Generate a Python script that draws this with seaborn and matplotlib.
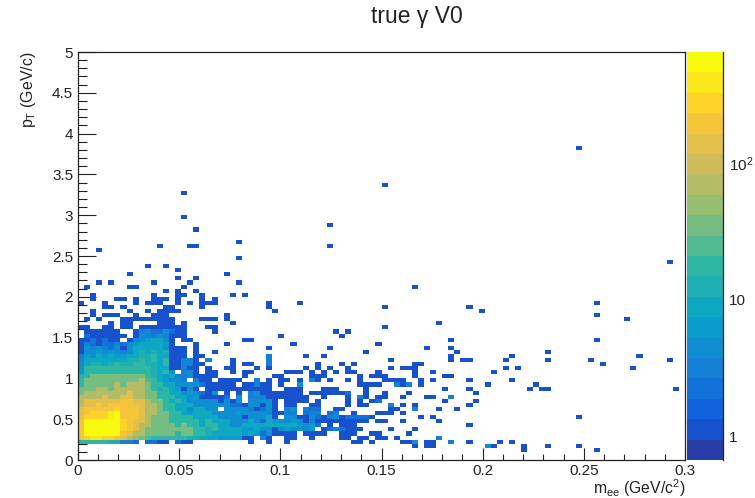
import numpy as np
import pandas as pd
import seaborn as sns
import matplotlib
matplotlib.use("Agg")
import matplotlib.pyplot as plt
from matplotlib.colors import LinearSegmentedColormap, ListedColormap, LogNorm
from matplotlib.ticker import FixedLocator, NullFormatter

# -----------------------------
# DATA (bin numbers + counts)
# -----------------------------
N_BINS = 100
MEE_MAX = 0.3
PT_MAX = 5.0

# dense part, first row is pT bin 4, first column is mee bin 0
core_first_row = 4
core_counts = [
    [20, 20, 20, 20, 20, 12, 12, 3, 3, 2, 0, 2, 2, 1, 1, 0, 2, 1, 1, 0, 0, 0, 0, 0, 0, 0, 0, 0, 1, 0, 0, 1],
    [230, 320, 400, 400, 320, 320, 230, 120, 80, 50, 30, 25, 20, 20, 15, 15, 15, 15, 12, 12, 8, 8, 8, 6, 6, 6, 6, 1, 1, 0, 3, 1],
    [230, 500, 500, 500, 500, 500, 500, 230, 120, 80, 60, 30, 40, 30, 30, 30, 15, 30, 30, 15, 15, 12, 8, 8, 8, 8, 8, 6, 8, 6, 2, 5],
    [230, 500, 500, 500, 500, 500, 500, 320, 170, 120, 60, 40, 30, 40, 40, 30, 30, 30, 30, 15, 15, 12, 15, 8, 8, 8, 8, 6, 6, 8, 4, 5],
    [230, 500, 500, 500, 500, 500, 500, 320, 170, 120, 60, 60, 40, 40, 30, 30, 20, 30, 15, 15, 8, 15, 15, 8, 8, 5, 5, 8, 8, 8, 8, 8],
    [230, 500, 500, 500, 500, 500, 500, 320, 230, 120, 120, 60, 40, 40, 30, 20, 15, 20, 15, 15, 8, 15, 8, 8, 8, 4, 5, 4, 8, 4, 2, 8],
    [120, 320, 320, 320, 320, 400, 500, 230, 230, 170, 120, 60, 40, 40, 30, 15, 20, 15, 15, 8, 8, 8, 8, 5, 4, 4, 4, 1, 4, 4, 4, 8],
    [120, 230, 320, 320, 320, 400, 500, 230, 230, 170, 120, 60, 60, 30, 30, 15, 15, 8, 6, 8, 8, 8, 4, 4, 4, 4, 6, 4, 4, 4, 4, 4],
    [120, 170, 230, 170, 230, 230, 320, 230, 230, 170, 120, 80, 60, 30, 15, 15, 8, 8, 5, 8, 8, 4, 4, 0, 4, 4, 4, 4, 3, 1, 2, 4],
    [80, 120, 120, 170, 120, 170, 170, 230, 230, 120, 120, 80, 60, 30, 15, 15, 8, 8, 8, 4, 4, 4, 4, 4, 4, 2, 2, 1, 4, 4, 1, 4],
    [80, 120, 120, 120, 120, 120, 120, 170, 170, 120, 120, 60, 40, 30, 15, 8, 15, 8, 4, 4, 4, 4, 4, 1, 4, 1, 4, 0, 4, 4, 4, 4],
    [60, 80, 80, 80, 120, 80, 80, 120, 120, 80, 80, 40, 30, 20, 15, 15, 8, 8, 4, 6, 1, 1, 1, 1, 2, 0, 4, 0, 3, 3, 3, 1],
    [30, 60, 60, 80, 60, 60, 80, 80, 120, 80, 80, 40, 30, 15, 15, 8, 8, 4, 6, 4, 2, 1, 4, 0, 1, 0, 1, 0, 3, 4, 1, 1],
    [30, 40, 40, 60, 60, 40, 60, 60, 80, 80, 80, 30, 20, 12, 15, 8, 6, 1, 4, 1, 0, 1, 1, 1, 1, 1, 1, 1, 1, 1, 1, 1],
    [15, 40, 40, 40, 40, 40, 60, 40, 60, 60, 60, 30, 20, 15, 8, 8, 4, 4, 4, 4, 2, 1, 1, 1, 1, 1, 0, 1, 1, 3, 1, 1],
    [15, 30, 30, 40, 30, 40, 40, 40, 40, 40, 60, 25, 15, 10, 6, 5, 4, 3, 0, 3, 1, 1, 0, 1, 1, 1, 1, 0, 0, 3, 0, 1],
    [12, 20, 30, 30, 30, 30, 30, 30, 30, 30, 30, 20, 12, 10, 6, 8, 3, 3, 4, 1, 1, 1, 1, 0, 0, 0, 0, 1],
    [6, 15, 20, 20, 20, 20, 20, 20, 20, 20, 20, 15, 12, 8, 15, 4, 0, 3, 4, 1, 0, 1, 1, 0, 0, 1, 0, 1, 1],
    [4, 15, 15, 15, 15, 15, 15, 15, 20, 15, 20, 15, 12, 10, 8, 1, 1, 3, 1, 1, 0, 1, 0, 0, 1, 1, 0, 0, 0, 1, 0, 1],
    [4, 10, 12, 12, 10, 12, 15, 12, 12, 15, 15, 12, 12, 8, 15, 1, 1, 3, 3, 1, 1, 0, 0, 0, 0, 1, 0, 1, 1, 0, 0, 3],
    [3, 8, 8, 10, 8, 10, 10, 8, 12, 12, 15, 12, 15, 10, 15, 1, 1, 3, 3, 1, 0, 3, 0, 0, 0, 1, 0, 0, 0, 0, 0, 3],
    [3, 6, 5, 8, 6, 8, 6, 6, 8, 10, 12, 12, 15, 8, 8, 1, 1, 1, 0, 1, 1, 0, 0, 0, 0, 0, 0, 0, 0, 0, 0, 3],
    [1, 4, 5, 6, 5, 6, 5, 3, 5, 8, 12, 10, 12, 8, 12, 1, 1, 1, 0, 1, 0, 0, 1],
    [1, 4, 3, 4, 3, 2, 4, 1, 4, 8, 10, 10, 10, 8, 5, 1, 1, 1, 0, 1, 0, 0, 0, 0, 0, 0, 0, 0, 0, 0, 0, 1],
    [1, 3, 2, 1, 2, 2, 3, 2, 4, 6, 8, 8, 10, 8, 6, 1, 0, 0, 0, 1, 0, 0, 0, 0, 1],
    [1, 1, 2, 1, 2, 1, 1, 0, 1, 3, 5, 6, 8, 8, 4, 1, 0, 1, 1, 0, 0, 0, 0, 0, 0, 0, 0, 1, 1],
    [0, 2, 1, 1, 1, 1, 1, 1, 0, 1, 4, 3, 3, 5, 3, 1, 1, 1],
    [0, 1, 1, 1, 1, 1, 1, 0, 0, 1, 3, 4, 2, 2, 4, 2, 1, 1, 0, 0, 0, 0, 1],
]

# lone cells above the core (mee bin, pT bin), count 1
upper_mee = [82, 17, 50, 17, 19, 41, 41, 97, 3, 26, 13, 18, 19, 26, 11, 14, 16, 8, 24, 16, 19,
             3, 5, 12, 18, 26, 1, 8, 9, 17, 16, 19, 14, 2, 12, 16, 17, 20, 25, 27,
             2, 6, 7, 9, 12, 13, 14, 16, 20, 22, 0, 4, 9, 11, 12, 13, 16, 18, 20, 21, 22, 31,
             4, 5, 7, 14, 15, 20, 31, 2, 8, 11, 13, 14, 15, 16, 2, 4, 5, 6, 9, 12, 13, 14, 24,
             1, 3, 7, 8, 9, 10, 11, 12, 13, 14, 15, 20, 21, 22, 24,
             5, 7, 8, 13, 14, 15, 17, 25, 0, 1, 4, 5, 7, 8, 10, 11, 12, 13, 14, 15, 16, 17, 21, 22]
upper_pt = [76, 65, 67, 59, 56, 57, 52, 48, 51, 53, 52, 52, 52, 49, 47, 47, 46, 45, 45, 44, 44,
            43, 43, 43, 43, 43, 42, 42, 42, 42, 41, 41, 41, 40, 40, 40, 40, 40, 40, 40,
            39, 39, 39, 39, 39, 39, 39, 39, 39, 39, 38, 38, 38, 38, 38, 38, 38, 38, 38, 38, 38, 38,
            37, 37, 37, 37, 37, 37, 37, 36, 36, 36, 36, 36, 36, 36, 35, 35, 35, 35, 35, 35, 35, 35, 35,
            34, 34, 34, 34, 34, 34, 34, 34, 34, 34, 34, 34, 34, 34, 34,
            33, 33, 33, 33, 33, 33, 33, 33, 32, 32, 32, 32, 32, 32, 32, 32, 32, 32, 32, 32, 32, 32, 32, 32]

# right of the core, mee bin >= 32
tail_mee = [55, 36, 32, 50, 64, 59, 50, 42, 44, 43, 33, 61, 35, 49, 41, 57, 61, 47, 62, 37, 40, 61, 61, 63, 64, 51,
            39, 43, 45, 55, 56, 37, 39, 41, 44, 51, 53, 54, 55, 34, 35, 36, 38, 40, 42, 44, 45, 49, 55, 58,
            32, 33, 38, 39, 40, 46, 48, 49, 50, 55, 60, 61,
            33, 34, 36, 38, 39, 41, 44, 46, 50, 51, 52, 53, 56, 58, 64,
            33, 36, 46, 47, 48, 49, 52, 53, 54, 56,
            34, 35, 36, 40, 41, 42, 47, 60, 64,
            32, 33, 34, 35, 36, 38, 39, 40, 41, 42, 43, 44, 47, 50, 54,
            32, 33, 34, 35, 36, 37, 40, 44, 46, 47, 49, 50, 53, 57, 58, 61,
            32, 34, 35, 36, 37, 39, 44, 46, 48, 49, 60,
            32, 34, 35, 38, 39, 44, 46, 47, 51, 53, 55, 64,
            32, 34, 35, 37, 38, 39, 42, 43, 51, 52, 55, 59, 62,
            32, 33, 34, 35, 37, 38, 39, 41, 42, 45, 49, 50, 51, 53,
            32, 34, 35, 36, 37, 38, 39, 41, 42, 43, 44, 45, 46, 47, 48, 56, 58,
            32, 33, 34, 35, 38, 39, 40, 42, 43, 44, 45, 46, 47, 49, 50, 53, 59,
            32, 33, 34, 35, 36, 37, 38, 41, 43, 44, 45, 64,
            32, 33, 34, 35, 36, 37, 38, 40, 41, 42, 46, 51, 55,
            32, 33, 34, 35, 37, 38, 39, 40, 43, 44, 45, 48, 49, 54,
            34, 35, 38, 43, 44, 46, 47, 49, 50, 52, 59,
            34, 45, 46, 48, 53, 54, 55, 57, 58, 61, 64, 55, 57, 58,
            66, 85, 85, 90, 85, 77, 71, 92, 70, 77, 84, 97, 86, 70, 72, 91, 68, 71, 67, 75, 74, 76, 77, 98,
            65, 65, 64, 82, 64, 69, 71, 64, 67, 68, 73, 73, 77, 82, 85]
tail_pt = [42, 38, 36, 37, 37, 33, 32, 31, 31, 30, 30, 29, 28, 28, 27, 27, 27, 26, 26, 25, 25, 25, 24, 24, 24, 24,
           23, 23, 23, 23, 23, 22, 22, 22, 22, 22, 22, 22, 22, 21, 21, 21, 21, 21, 21, 21, 21, 21, 21, 21,
           20, 20, 20, 20, 20, 20, 20, 20, 20, 20, 20, 20,
           19, 19, 19, 19, 19, 19, 19, 19, 19, 19, 19, 19, 19, 19, 19,
           18, 18, 18, 18, 18, 18, 18, 18, 18, 18,
           17, 17, 17, 17, 17, 17, 17, 17, 17,
           16, 16, 16, 16, 16, 16, 16, 16, 16, 16, 16, 16, 16, 16, 16,
           15, 15, 15, 15, 15, 15, 15, 15, 15, 15, 15, 15, 15, 15, 15, 15,
           14, 14, 14, 14, 14, 14, 14, 14, 14, 14, 14,
           13, 13, 13, 13, 13, 13, 13, 13, 13, 13, 13, 13,
           12, 12, 12, 12, 12, 12, 12, 12, 12, 12, 12, 12, 12,
           11, 11, 11, 11, 11, 11, 11, 11, 11, 11, 11, 11, 11, 11,
           10, 10, 10, 10, 10, 10, 10, 10, 10, 10, 10, 10, 10, 10, 10, 10, 10,
           9, 9, 9, 9, 9, 9, 9, 9, 9, 9, 9, 9, 9, 9, 9, 9, 9,
           8, 8, 8, 8, 8, 8, 8, 8, 8, 8, 8, 8,
           7, 7, 7, 7, 7, 7, 7, 7, 7, 7, 7, 7, 7,
           6, 6, 6, 6, 6, 6, 6, 6, 6, 6, 6, 6, 6, 6,
           5, 5, 5, 5, 5, 5, 5, 5, 5, 5, 5,
           4, 4, 4, 4, 4, 4, 4, 4, 4, 4, 4, 3, 3, 3,
           36, 38, 35, 34, 29, 26, 25, 25, 24, 24, 24, 24, 23, 22, 22, 22, 21, 19, 18, 18, 17, 17, 17, 17,
           16, 14, 13, 10, 8, 4, 4, 4, 3, 3, 3, 2, 3, 3, 2]

# the few tail cells that are not a single entry
tail_heavy_mee = [32, 33, 34, 35, 36, 37, 38, 39, 33, 34, 35, 36, 37, 38, 41, 42, 43, 44, 45,
                  32, 33, 34, 35, 36, 37, 38, 40, 41, 42, 34, 35, 38, 39, 40, 41, 42, 43, 44, 45, 46, 47,
                  34, 35, 37, 38, 39, 41, 42, 34, 35, 37, 38, 39, 36, 52, 54, 38, 49, 51, 55, 44, 46, 61, 67, 55, 59, 61]
tail_heavy_pt = [8, 8, 8, 8, 8, 8, 8, 8, 7, 7, 7, 7, 7, 7, 7, 7, 7, 7, 7,
                 9, 9, 9, 9, 9, 9, 9, 9, 9, 9, 10, 10, 10, 10, 10, 10, 10, 10, 10, 10, 10, 10,
                 11, 11, 11, 11, 11, 11, 11, 12, 12, 12, 12, 12, 18, 18, 18, 19, 14, 13, 12, 16, 15, 15, 3, 4, 5, 4]
tail_heavy_n = [10, 8, 10, 8, 6, 4, 6, 2, 5, 6, 5, 5, 4, 6, 2, 3, 2, 1, 1,
                6, 5, 4, 6, 4, 1, 3, 1, 1, 1, 4, 4, 4, 2, 1, 3, 4, 1, 2, 2, 2, 2,
                3, 3, 2, 3, 3, 2, 3, 3, 4, 3, 2, 2, 4, 3, 3, 3, 2, 3, 3, 2, 3, 3, 4, 4, 3, 3]

tick_mee = [0, 0.05, 0.1, 0.15, 0.2, 0.25, 0.3]
tick_mee_labels = ["0", "0.05", "0.1", "0.15", "0.2", "0.25", "0.3"]
tick_pt = [0, 0.5, 1, 1.5, 2, 2.5, 3, 3.5, 4, 4.5, 5]
tick_pt_labels = ["0", "0.5", "1", "1.5", "2", "2.5", "3", "3.5", "4", "4.5", "5"]

# -----------------------------
# BUILD LONG TABLE
# -----------------------------
mee_edges = np.linspace(0, MEE_MAX, N_BINS + 1)
pt_edges = np.linspace(0, PT_MAX, N_BINS + 1)
mee_centers = 0.5 * (mee_edges[:-1] + mee_edges[1:])
pt_centers = 0.5 * (pt_edges[:-1] + pt_edges[1:])

cells = {}
for row, values in enumerate(core_counts):
    for col, value in enumerate(values):
        if value > 0:
            cells[(col, core_first_row + row)] = value
for col, row in zip(upper_mee, upper_pt):
    cells[(col, row)] = 1
for col, row in zip(tail_mee, tail_pt):
    cells[(col, row)] = 1
for col, row, value in zip(tail_heavy_mee, tail_heavy_pt, tail_heavy_n):
    cells[(col, row)] = value

hist = pd.DataFrame(
    [(mee_centers[c], pt_centers[r], n) for (c, r), n in cells.items()],
    columns=["mee", "pt", "n"],
)

# -----------------------------
# STYLE
# -----------------------------
sns.set_theme(style="ticks")
plt.rcParams["font.family"] = ["Liberation Sans", "DejaVu Sans"]
plt.rcParams["mathtext.fontset"] = "custom"
plt.rcParams["mathtext.rm"] = "Liberation Sans"
plt.rcParams["mathtext.it"] = "Liberation Sans"
plt.rcParams["mathtext.bf"] = "Liberation Sans"
plt.rcParams["text.color"] = "#222222"

# ROOT "bird" palette cut in 20 contours
bird = LinearSegmentedColormap.from_list("bird", [
    (0.2082, 0.1664, 0.5293), (0.0592, 0.3599, 0.8684), (0.0780, 0.5041, 0.8385),
    (0.0232, 0.6419, 0.7914), (0.1802, 0.7178, 0.6425), (0.5301, 0.7492, 0.4662),
    (0.8186, 0.7328, 0.3499), (0.9956, 0.7862, 0.1968), (0.9764, 0.9832, 0.0539),
], N=256)
contours = ListedColormap([bird((k + 0.99) / 20) for k in range(20)])
Z_MIN, Z_MAX = 0.667, 655

# -----------------------------
# PLOT
# -----------------------------
W, H = 755, 498
fig = plt.figure(figsize=(W / 100, H / 100), dpi=100)
ax = fig.add_axes([78 / W, 1 - 460 / H, (685 - 78) / W, (460 - 52) / H])
cax = fig.add_axes([687 / W, 1 - 460 / H, (723 - 687) / W, (460 - 52) / H])

sns.histplot(
    data=hist, x="mee", y="pt", weights="n",
    bins=(mee_edges, pt_edges), thresh=0,
    cmap=contours, ax=ax,
)
# histplot always passes vmin/vmax, so the log norm goes on the mesh afterwards
mesh = ax.collections[0]
mesh.set_norm(LogNorm(vmin=Z_MIN, vmax=Z_MAX))
fig.colorbar(mesh, cax=cax)

ax.set_xlim(0, MEE_MAX)
ax.set_ylim(0, PT_MAX)
ax.set_xticks(tick_mee, tick_mee_labels)
ax.set_yticks(tick_pt, tick_pt_labels)
ax.xaxis.set_minor_locator(FixedLocator(np.arange(0, 0.3001, 0.01)))
ax.yaxis.set_minor_locator(FixedLocator(np.arange(0, 5.001, 0.1)))
ax.tick_params(axis="x", which="major", direction="in", length=8.6, width=0.8, labelsize=11, pad=3, color="#222222", labelcolor="#222222")
ax.tick_params(axis="x", which="minor", direction="in", length=4.3, width=0.8, color="#222222")
ax.tick_params(axis="y", which="major", direction="in", length=13, width=0.8, labelsize=11, pad=3.5, color="#222222", labelcolor="#222222")
ax.tick_params(axis="y", which="minor", direction="in", length=6.5, width=0.8, color="#222222")
for side in ax.spines:
    ax.spines[side].set_visible(True)
    ax.spines[side].set_linewidth(0.9)
    ax.spines[side].set_color("#222222")

ax.set_xlabel("")
ax.set_ylabel("")
fig.text(685 / W, 1 - 488 / H, r"m$_{\mathrm{ee}}$ (GeV/c$^{2}$)", ha="right", va="center", fontsize=11.3)
fig.text(28 / W, 1 - 52 / H, r"p$_{\mathrm{T}}$ (GeV/c)", rotation=90, ha="center", va="top", fontsize=11.4)
fig.text(416.5 / W, 1 - 16 / H, "true \u03b3 V0", ha="center", va="center", fontsize=16.5)

# colour bar, ticks on the right edge pointing inwards
cax.set_yscale("log")
cax.set_ylim(Z_MIN, Z_MAX)
cax.yaxis.set_ticks_position("right")
cax.set_yticks([1, 10, 100], ["1", "10", "$10^{2}$"])
cax.yaxis.set_minor_locator(FixedLocator([0.7, 0.8, 0.9] + [m * d for d in (1, 10, 100) for m in range(2, 10) if m * d < Z_MAX]))
cax.yaxis.set_minor_formatter(NullFormatter())
cax.tick_params(axis="y", which="major", direction="in", length=13.5, width=0.8, labelsize=11, pad=4, color="#222222", labelcolor="#222222")
cax.tick_params(axis="y", which="minor", direction="in", length=7, width=0.8, color="#222222")
cax.tick_params(axis="x", which="both", bottom=False, top=False)
for side in cax.spines:
    cax.spines[side].set_visible(side == "right")
    cax.spines[side].set_linewidth(0.9)
    cax.spines[side].set_color("#222222")

fig.savefig("out.png", dpi=100)
